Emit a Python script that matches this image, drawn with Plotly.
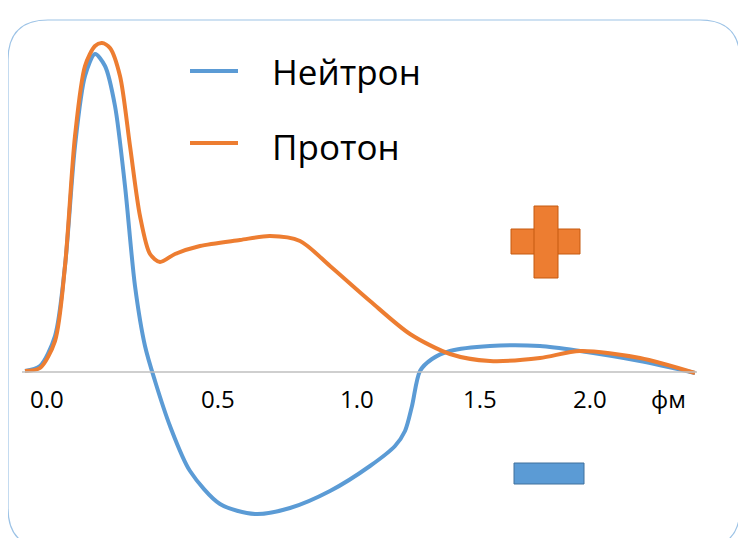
import plotly.graph_objects as go

# x positions (chart units) and density values (relative to axis, chart units)
nx = [25,40,55,65,75,85,95,105,115,125,135,145,155,170,190,220,255,290,330,370,395,405,412,420,432,450,490,540,580,640,695]
ny = [1,6,36,106,226,296,318,306,266,186,86,26,-9,-54,-99,-132,-142,-136,-119,-94,-74,-59,-34,1,13,21,26,26,21,11,-1]
px = [25,40,55,65,75,85,95,102,110,120,130,140,150,160,175,200,240,270,300,330,370,410,450,490,540,580,640,695]
py = [1,4,31,106,236,306,326,329,324,296,226,156,118,110,118,126,132,136,131,106,71,38,18,11,14,21,14,-1]
tick_pos = [47,218,357,480,590,668]
tick_txt = ["0.0","0.5","1.0","1.5","2.0","фм"]

fig = go.Figure()
fig.add_trace(go.Scatter(x=nx, y=ny, mode="lines", line=dict(color="#5B9BD5", width=4, shape="spline", smoothing=0.8), name="Нейтрон"))
fig.add_trace(go.Scatter(x=px, y=py, mode="lines", line=dict(color="#ED7D31", width=4, shape="spline", smoothing=0.8), name="Протон"))
fig.add_trace(go.Scatter(x=[22,697], y=[0,0], mode="lines", line=dict(color="#BFBFBF", width=1.5), showlegend=False))

W, H = 746, 538
OFF = 8

shapes = []
r = 40
pts = [("M", 8+r, 4), ("L", 740-r, 4), ("Q", 740, 4), ("", 740, 4+r), ("L", 740, 532-r), ("Q", 740, 532), ("", 740-r, 532),
       ("L", 8+r, 532), ("Q", 8, 532), ("", 8, 532-r), ("L", 8, 4+r), ("Q", 8, 4), ("", 8+r, 4)]
path = " ".join(f"{c} {x},{356-y}" if c else f"{x},{356-y}" for c, x, y in pts) + " Z"
shapes.append(dict(type="path", xref="x", yref="y", path=path, line=dict(color="#9DC3E6", width=1.2)))
for (a, b, c, d) in [(511, 213, 580, 238), (534, 190, 558, 262)]:
    shapes.append(dict(type="rect", xref="x", yref="y", x0=a, x1=c, y0=356-b, y1=356-d,
                       fillcolor="#ED7D31", line=dict(color="#C55A11", width=1)))
shapes.append(dict(type="rect", xref="x", yref="y", x0=535, x1=557, y0=356-214, y1=356-237,
                   fillcolor="#ED7D31", line=dict(width=0)))
shapes.append(dict(type="rect", xref="x", yref="y", x0=514, x1=584, y0=356-447, y1=356-468,
                   fillcolor="#5B9BD5", line=dict(color="#41719C", width=1)))
for yy, col in [(55, "#5B9BD5"), (127, "#ED7D31")]:
    shapes.append(dict(type="line", xref="x", yref="y", x0=190, x1=238, y0=356-yy, y1=356-yy,
                       line=dict(color=col, width=4)))

ann = [dict(x=270, y=356-55, text="Нейтрон", showarrow=False, xanchor="left", font=dict(size=35, color="black")),
       dict(x=270, y=356-130, text="Протон", showarrow=False, xanchor="left", font=dict(size=35, color="black"))]
for t, s in zip(tick_pos, tick_txt):
    ann.append(dict(x=t, y=356-382, text=s, showarrow=False, font=dict(size=24, color="black")))

fig.update_layout(width=W, height=H, margin=dict(l=0, r=0, t=0, b=0), showlegend=False,
                  plot_bgcolor="white", paper_bgcolor="white", shapes=shapes, annotations=ann,
                  font=dict(family="Open Sans, Liberation Sans"),
                  xaxis=dict(range=[OFF, W+OFF], visible=False),
                  yaxis=dict(range=[356-H+OFF, 356+OFF], visible=False))
fig.write_html("out.html")
